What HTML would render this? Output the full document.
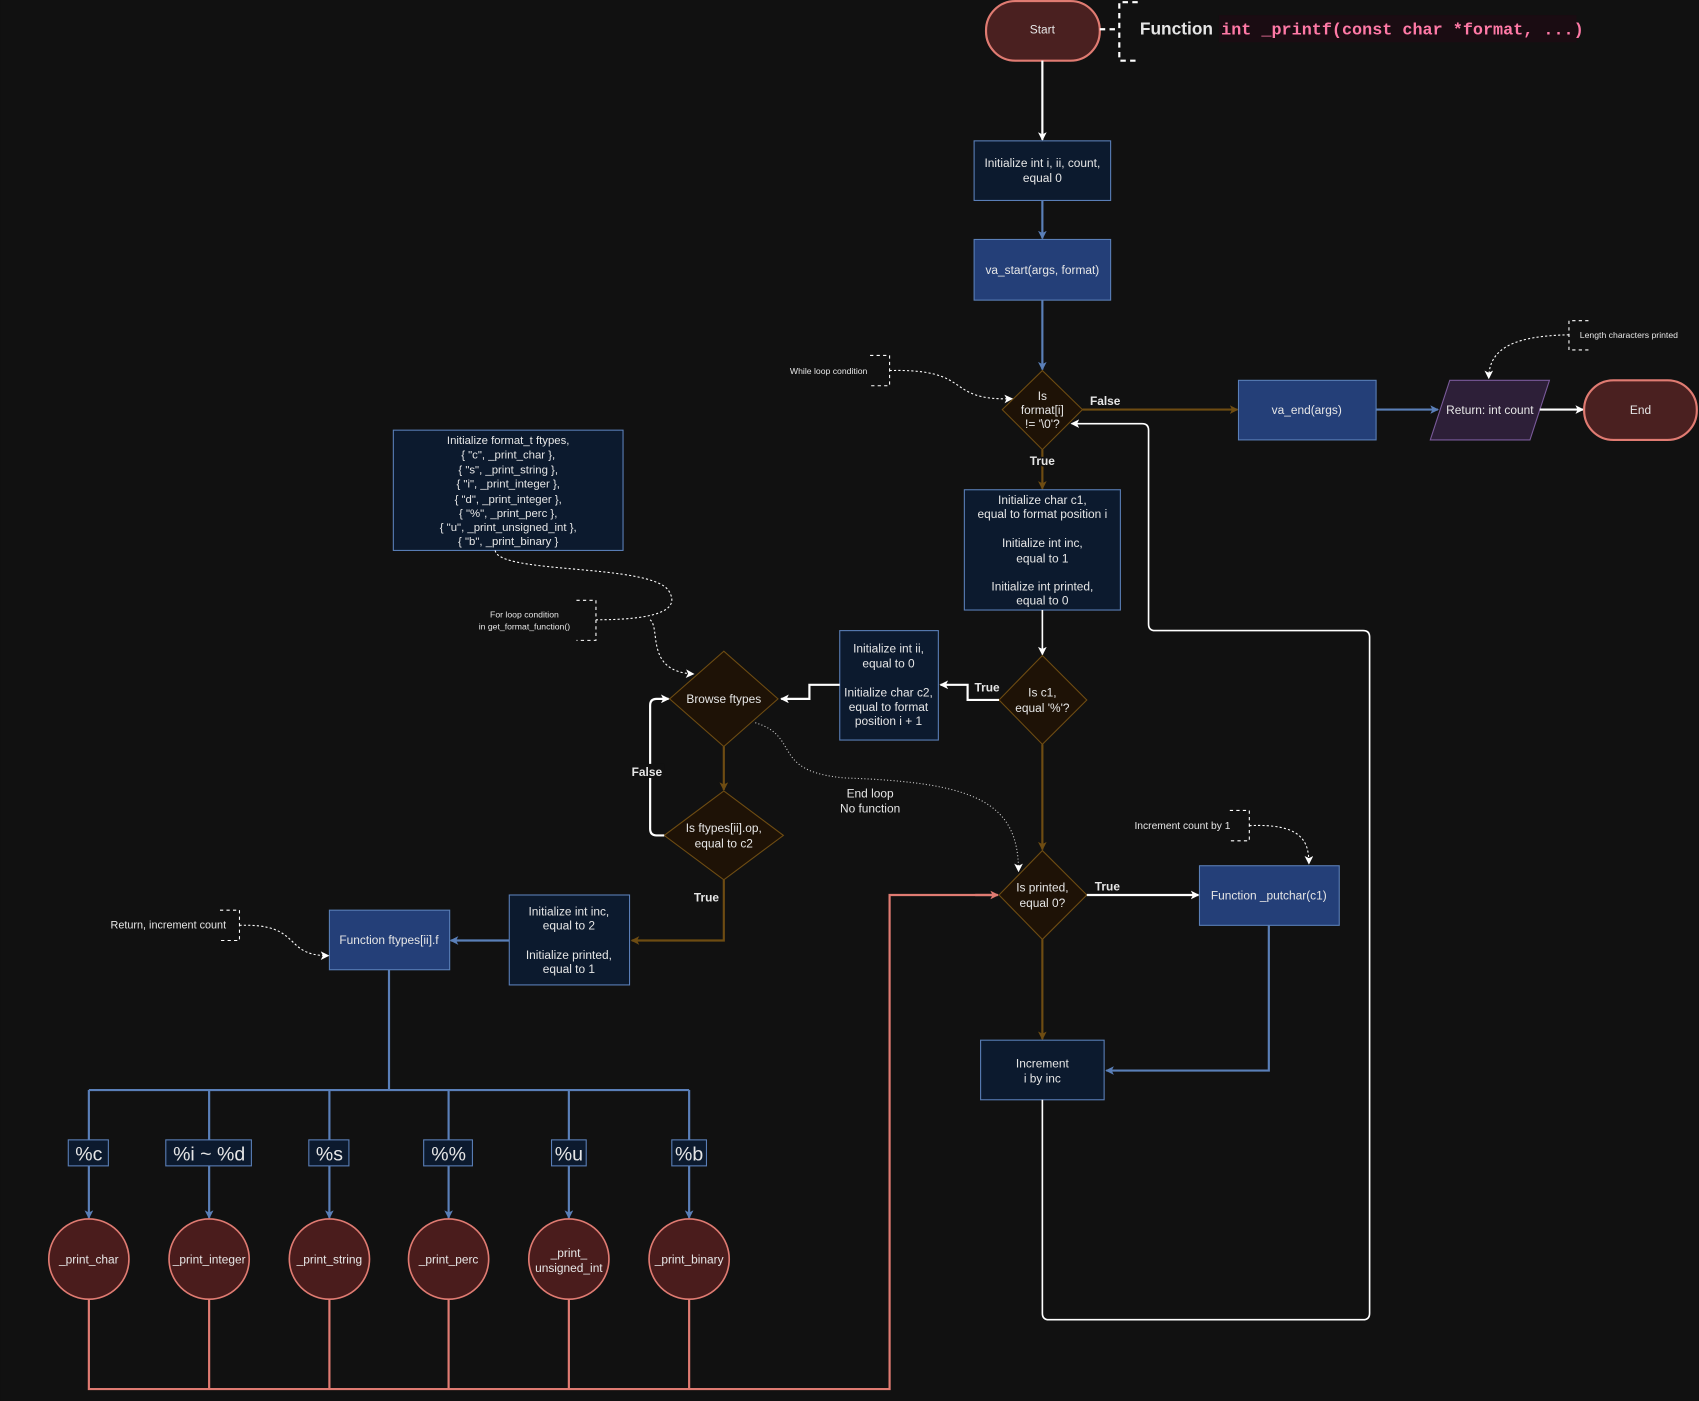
<!DOCTYPE html>
<html><head><meta charset="utf-8"><style>
html,body{margin:0;padding:0;background:#111111;}
svg{display:block;}
text{font-family:"Liberation Sans",sans-serif;fill:#e6e6e6;}
</style></head><body>
<svg width="1699" height="1401" viewBox="0 0 1568 1293" xmlns="http://www.w3.org/2000/svg">
<defs>
<marker id="aw" markerWidth="8" markerHeight="8" refX="7" refY="4" orient="auto" markerUnits="userSpaceOnUse"><path d="M0,0 L8,4 L0,8 L2,4z" fill="#ffffff"/></marker>
<marker id="ab" markerWidth="8" markerHeight="8" refX="7" refY="4" orient="auto" markerUnits="userSpaceOnUse"><path d="M0,0 L8,4 L0,8 L2,4z" fill="#5a7fb8"/></marker>
<marker id="ao" markerWidth="8" markerHeight="8" refX="7" refY="4" orient="auto" markerUnits="userSpaceOnUse"><path d="M0,0 L8,4 L0,8 L2,4z" fill="#6e4c12"/></marker>
<marker id="ar" markerWidth="8" markerHeight="8" refX="7" refY="4" orient="auto" markerUnits="userSpaceOnUse"><path d="M0,0 L8,4 L0,8 L2,4z" fill="#e07b72"/></marker>
</defs>
<rect width="1568" height="1293" fill="#111111"/>

<!-- Start -->
<rect x="910" y="1" width="105" height="55" rx="27" fill="#4a2020" stroke="#e07b72" stroke-width="2"/>
<text x="962" y="31" font-size="11" text-anchor="middle">Start</text>
<path d="M1015,27 H1033 M1050,2 H1033 V56 H1050" fill="none" stroke="#fff" stroke-width="2" stroke-dasharray="5,4"/>
<rect x="1125" y="14" width="330" height="25" fill="#1a0c12"/>
<text x="1052" y="32" font-size="16" font-weight="bold" fill="#fff">Function</text>
<text x="1127" y="32" font-size="15.5" font-weight="bold" style="font-family:'Liberation Mono',monospace;fill:#ff79a6">int _printf(const char *format, ...)</text>

<line x1="962" y1="56" x2="962" y2="129" stroke="#fff" stroke-width="2" marker-end="url(#aw)"/>
<rect x="899" y="130" width="126" height="55" fill="#0c1a2e" stroke="#5a7fb8"/>
<text x="962" y="154" font-size="11" text-anchor="middle">Initialize int i, ii, count,</text>
<text x="962" y="168" font-size="11" text-anchor="middle">equal 0</text>
<line x1="962" y1="185" x2="962" y2="220" stroke="#5a7fb8" stroke-width="2" marker-end="url(#ab)"/>
<rect x="899" y="221" width="126" height="56" fill="#243f78" stroke="#5a7fb8"/>
<text x="962" y="253" font-size="11" text-anchor="middle">va_start(args, format)</text>
<line x1="962" y1="277" x2="962" y2="341" stroke="#5a7fb8" stroke-width="2" marker-end="url(#ab)"/>

<!-- diamond1 -->
<path d="M962,342 L999,378 L962,415 L925,378z" fill="#1e1206" stroke="#6e4c12"/>
<text x="962" y="369" font-size="11" text-anchor="middle">Is</text>
<text x="962" y="382" font-size="11" text-anchor="middle">format[i]</text>
<text x="962" y="395" font-size="11" text-anchor="middle">!= '\0'?</text>
<line x1="999" y1="378" x2="1142" y2="378" stroke="#6e4c12" stroke-width="2" marker-end="url(#ao)"/>
<text x="1020" y="374" font-size="11" font-weight="bold" text-anchor="middle" fill="#fff">False</text>
<rect x="1143" y="351" width="127" height="55" fill="#243f78" stroke="#5a7fb8"/>
<text x="1206" y="382" font-size="11" text-anchor="middle">va_end(args)</text>
<line x1="1270" y1="378" x2="1327" y2="378" stroke="#5a7fb8" stroke-width="2" marker-end="url(#ab)"/>
<path d="M1338,351 H1430 L1412,406 H1320z" fill="#2d1f38" stroke="#7a5a9a"/>
<text x="1375" y="382" font-size="11" text-anchor="middle">Return: int count</text>
<line x1="1421" y1="378" x2="1461" y2="378" stroke="#fff" stroke-width="2" marker-end="url(#aw)"/>
<rect x="1462" y="351" width="104" height="55" rx="27" fill="#4a2020" stroke="#e07b72" stroke-width="2"/>
<text x="1514" y="382" font-size="11" text-anchor="middle">End</text>

<!-- length annotation -->
<path d="M1466,296 H1448 V323 H1466" fill="none" stroke="#fff" stroke-dasharray="3,3"/>
<text x="1458" y="312" font-size="8">Length characters printed</text>
<path d="M1448,309 C1400,310 1374,320 1374,349" fill="none" stroke="#fff" stroke-dasharray="2,2" marker-end="url(#aw)"/>

<!-- while annotation -->
<text x="729" y="345" font-size="8">While loop condition</text>
<path d="M803,328 H821 V356 H803" fill="none" stroke="#fff" stroke-dasharray="3,3"/>
<path d="M821,342 C900,340 870,370 934,368" fill="none" stroke="#fff" stroke-dasharray="2,2" marker-end="url(#aw)"/>

<!-- True down -->
<line x1="962" y1="415" x2="962" y2="451" stroke="#6e4c12" stroke-width="2" marker-end="url(#ao)"/>
<text x="962" y="429" font-size="11" font-weight="bold" text-anchor="middle" fill="#fff" stroke="#111" stroke-width="3" paint-order="stroke">True</text>
<rect x="890" y="452" width="144" height="111" fill="#0c1a2e" stroke="#5a7fb8"/>
<g font-size="11" text-anchor="middle">
<text x="962" y="465">Initialize char c1,</text>
<text x="962" y="478">equal to format position i</text>
<text x="962" y="505">Initialize int inc,</text>
<text x="962" y="519">equal to 1</text>
<text x="962" y="545">Initialize int printed,</text>
<text x="962" y="558">equal to 0</text>
</g>
<line x1="962" y1="563" x2="962" y2="604" stroke="#fff" stroke-width="1.5" marker-end="url(#aw)"/>

<!-- diamond2 -->
<path d="M962,605 L1003,646 L962,687 L922,646z" fill="#1e1206" stroke="#6e4c12"/>
<text x="962" y="643" font-size="11" text-anchor="middle">Is c1,</text>
<text x="962" y="657" font-size="11" text-anchor="middle">equal '%'?</text>
<path d="M922,646 H893 V632 H868" fill="none" stroke="#fff" stroke-width="2" marker-end="url(#aw)"/>
<text x="911" y="638" font-size="11" font-weight="bold" text-anchor="middle" fill="#fff">True</text>
<rect x="775" y="582" width="91" height="101" fill="#0c1a2e" stroke="#5a7fb8"/>
<g font-size="11" text-anchor="middle">
<text x="820" y="602">Initialize int ii,</text>
<text x="820" y="616">equal to 0</text>
<text x="820" y="643">Initialize char c2,</text>
<text x="820" y="656">equal to format</text>
<text x="820" y="669">position i + 1</text>
</g>
<path d="M775,632 H747 V645 H721" fill="none" stroke="#fff" stroke-width="2" marker-end="url(#aw)"/>

<!-- Browse -->
<path d="M668,601 L718,645 L668,689 L618,645z" fill="#1e1206" stroke="#6e4c12"/>
<text x="668" y="649" font-size="11" text-anchor="middle">Browse ftypes</text>
<line x1="668" y1="689" x2="668" y2="729" stroke="#6e4c12" stroke-width="2" marker-end="url(#ao)"/>
<path d="M668,730 L723,771 L668,812 L613,771z" fill="#1e1206" stroke="#6e4c12"/>
<text x="668" y="768" font-size="11" text-anchor="middle">Is ftypes[ii].op,</text>
<text x="668" y="782" font-size="11" text-anchor="middle">equal to c2</text>
<path d="M613,771 H606 Q600,771 600,765 V651 Q600,645 606,645 H617" fill="none" stroke="#fff" stroke-width="2" marker-end="url(#aw)"/>
<rect x="583" y="705" width="30" height="13" fill="#111"/>
<text x="597" y="716" font-size="11" font-weight="bold" text-anchor="middle" fill="#fff">False</text>
<path d="M668,812 V868 H583" fill="none" stroke="#6e4c12" stroke-width="2" marker-end="url(#ao)"/>
<text x="652" y="832" font-size="11" font-weight="bold" text-anchor="middle" fill="#fff">True</text>
<rect x="470" y="826" width="111" height="83" fill="#0c1a2e" stroke="#5a7fb8"/>
<g font-size="11" text-anchor="middle">
<text x="525" y="845">Initialize int inc,</text>
<text x="525" y="858">equal to 2</text>
<text x="525" y="885">Initialize printed,</text>
<text x="525" y="898">equal to 1</text>
</g>
<line x1="470" y1="868" x2="416" y2="868" stroke="#5a7fb8" stroke-width="2" marker-end="url(#ab)"/>
<rect x="304" y="840" width="111" height="55" fill="#243f78" stroke="#5a7fb8"/>
<text x="359" y="871" font-size="11" text-anchor="middle">Function ftypes[ii].f</text>
<text x="102" y="857" font-size="10">Return, increment count</text>
<path d="M203,840 H221 V868 H203" fill="none" stroke="#fff" stroke-dasharray="3,3"/>
<path d="M221,854 C280,852 260,882 303,882" fill="none" stroke="#fff" stroke-dasharray="2,2" marker-end="url(#aw)"/>

<!-- ftypes box -->
<rect x="363" y="397" width="212" height="111" fill="#0c1a2e" stroke="#5a7fb8"/>
<g font-size="10.5" text-anchor="middle">
<text x="469" y="410">Initialize format_t ftypes,</text>
<text x="469" y="423">{ "c", _print_char },</text>
<text x="469" y="437">{ "s", _print_string },</text>
<text x="469" y="450">{ "i", _print_integer },</text>
<text x="469" y="464">{ "d", _print_integer },</text>
<text x="469" y="477">{ "%", _print_perc },</text>
<text x="469" y="490">{ "u", _print_unsigned_int },</text>
<text x="469" y="503">{ "b", _print_binary }</text>
</g>
<text x="484" y="570" font-size="8" text-anchor="middle">For loop condition</text>
<text x="484" y="581" font-size="8" text-anchor="middle">in get_format_function()</text>
<path d="M532,554 H550 V591 H532" fill="none" stroke="#fff" stroke-dasharray="3,3"/>
<path d="M457,508 C460,530 600,520 617,545 C630,565 600,572 550,572" fill="none" stroke="#fff" stroke-dasharray="2,2"/>
<path d="M600,572 C610,580 595,620 640,622" fill="none" stroke="#fff" stroke-dasharray="2,2" marker-end="url(#aw)"/>

<!-- end loop dotted -->
<path d="M697,667 C740,680 710,712 780,718 C900,722 940,740 940,804" fill="none" stroke="#ccc" stroke-dasharray="1,2" marker-end="url(#aw)"/>
<text x="803" y="736" font-size="11" text-anchor="middle">End loop</text>
<text x="803" y="750" font-size="11" text-anchor="middle">No function</text>

<!-- diamond5 -->
<line x1="962" y1="687" x2="962" y2="784" stroke="#6e4c12" stroke-width="2" marker-end="url(#ao)"/>
<path d="M962,785 L1003,826 L962,867 L922,826z" fill="#1e1206" stroke="#6e4c12"/>
<text x="962" y="823" font-size="11" text-anchor="middle">Is printed,</text>
<text x="962" y="837" font-size="11" text-anchor="middle">equal 0?</text>
<line x1="1003" y1="826" x2="1106" y2="826" stroke="#fff" stroke-width="2" marker-end="url(#aw)"/>
<text x="1022" y="822" font-size="11" font-weight="bold" text-anchor="middle" fill="#fff">True</text>
<rect x="1107" y="799" width="129" height="55" fill="#243f78" stroke="#5a7fb8"/>
<text x="1171" y="830" font-size="11" text-anchor="middle">Function _putchar(c1)</text>
<text x="1047" y="765" font-size="9.5">Increment count by 1</text>
<path d="M1135,748 H1153 V776 H1135" fill="none" stroke="#fff" stroke-dasharray="3,3"/>
<path d="M1153,762 C1200,760 1208,775 1208,797" fill="none" stroke="#fff" stroke-dasharray="2,2" marker-end="url(#aw)"/>
<path d="M1171,854 V988 H1021" fill="none" stroke="#5a7fb8" stroke-width="2" marker-end="url(#ab)"/>
<line x1="962" y1="867" x2="962" y2="959" stroke="#6e4c12" stroke-width="2" marker-end="url(#ao)"/>
<rect x="905" y="960" width="114" height="55" fill="#0c1a2e" stroke="#5a7fb8"/>
<text x="962" y="985" font-size="11" text-anchor="middle">Increment</text>
<text x="962" y="999" font-size="11" text-anchor="middle">i by inc</text>
<path d="M962,1015 V1212 Q962,1218 968,1218 H1258 Q1264,1218 1264,1212 V588 Q1264,582 1258,582 H1066 Q1060,582 1060,576 V397 Q1060,391 1054,391 H989" fill="none" stroke="#fff" stroke-width="1.5" marker-end="url(#aw)"/>

<!-- fan out -->
<path d="M359,895 V1006 M82,1006 H636" fill="none" stroke="#5a7fb8" stroke-width="2"/>
<g stroke="#5a7fb8" stroke-width="2" marker-end="url(#ab)">
<line x1="82" y1="1006" x2="82" y2="1124"/>
<line x1="193" y1="1006" x2="193" y2="1124"/>
<line x1="304" y1="1006" x2="304" y2="1124"/>
<line x1="414" y1="1006" x2="414" y2="1124"/>
<line x1="525" y1="1006" x2="525" y2="1124"/>
<line x1="636" y1="1006" x2="636" y2="1124"/>
</g>
<g font-size="18" text-anchor="middle">
<rect x="63" y="1052" width="37" height="24" fill="#0c1a2e" stroke="#5a7fb8"/><text x="82" y="1071" fill="#fff">%c</text>
<rect x="153" y="1052" width="79" height="24" fill="#0c1a2e" stroke="#5a7fb8"/><text x="193" y="1071" fill="#fff">%i ~ %d</text>
<rect x="285" y="1052" width="37" height="24" fill="#0c1a2e" stroke="#5a7fb8"/><text x="304" y="1071" fill="#fff">%s</text>
<rect x="391" y="1052" width="45" height="24" fill="#0c1a2e" stroke="#5a7fb8"/><text x="414" y="1071" fill="#fff">%%</text>
<rect x="509" y="1052" width="32" height="24" fill="#0c1a2e" stroke="#5a7fb8"/><text x="525" y="1071" fill="#fff">%u</text>
<rect x="620" y="1052" width="32" height="24" fill="#0c1a2e" stroke="#5a7fb8"/><text x="636" y="1071" fill="#fff">%b</text>
</g>
<!-- salmon return -->
<path d="M82,1199 V1282 H821 V826 H920 M193,1199 V1282 M304,1199 V1282 M414,1199 V1282 M525,1199 V1282 M636,1199 V1282" fill="none" stroke="#e07b72" stroke-width="2"/>
<line x1="900" y1="826" x2="921" y2="826" stroke="#e07b72" stroke-width="2" marker-end="url(#ar)"/>
<g fill="#4a1c1c" stroke="#e07b72" stroke-width="1.5">
<circle cx="82" cy="1162" r="37"/><circle cx="193" cy="1162" r="37"/><circle cx="304" cy="1162" r="37"/>
<circle cx="414" cy="1162" r="37"/><circle cx="525" cy="1162" r="37"/><circle cx="636" cy="1162" r="37"/>
</g>
<g font-size="11" text-anchor="middle">
<text x="82" y="1166">_print_char</text>
<text x="193" y="1166">_print_integer</text>
<text x="304" y="1166">_print_string</text>
<text x="414" y="1166">_print_perc</text>
<text x="525" y="1160">_print_</text>
<text x="525" y="1174">unsigned_int</text>
<text x="636" y="1166">_print_binary</text>
</g>
</svg>
</body></html>
